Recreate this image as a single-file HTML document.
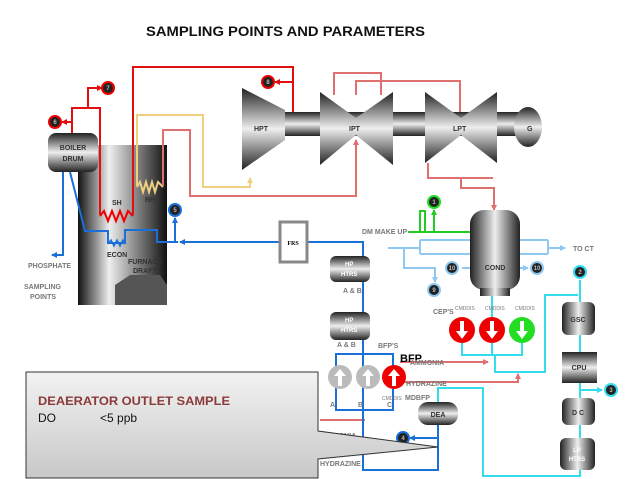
<!DOCTYPE html>
<html><head><meta charset="utf-8"><style>
body{margin:0;background:#fff;}
svg{display:block;font-family:"Liberation Sans",sans-serif;}
.l{font-size:7px;font-weight:bold;fill:#333;}
.g{font-size:7px;font-weight:bold;fill:#777;}
</style></head><body>
<svg width="638" height="479" viewBox="0 0 638 479" xmlns="http://www.w3.org/2000/svg">
<defs>
<linearGradient id="met" x1="0" y1="0" x2="0" y2="1"><stop offset="0" stop-color="#222"/><stop offset="0.5" stop-color="#eee"/><stop offset="1" stop-color="#222"/></linearGradient>
<linearGradient id="meth" x1="0" y1="0" x2="1" y2="0"><stop offset="0" stop-color="#222"/><stop offset="0.5" stop-color="#eee"/><stop offset="1" stop-color="#222"/></linearGradient>
<linearGradient id="furn" x1="0" y1="0" x2="1" y2="0"><stop offset="0" stop-color="#111"/><stop offset="0.35" stop-color="#eee"/><stop offset="0.6" stop-color="#999"/><stop offset="1" stop-color="#111"/></linearGradient>
<linearGradient id="box" x1="0" y1="0" x2="0" y2="1"><stop offset="0" stop-color="#f2f2f2"/><stop offset="1" stop-color="#c8c8c8"/></linearGradient>
<marker id="ar" markerWidth="6" markerHeight="6" refX="5" refY="3" orient="auto" markerUnits="userSpaceOnUse"><path d="M0,0L6,3L0,6z" fill="context-stroke"/></marker>
</defs>
<text x="146" y="36" font-size="13.5" font-weight="bold" fill="#111" textLength="279" lengthAdjust="spacingAndGlyphs">SAMPLING POINTS AND PARAMETERS</text>

<!-- furnace -->
<rect x="78" y="145" width="89" height="160" fill="url(#furn)"/>
<path d="M115,305 L115,285 L130,275 L160,275 L167,285 L167,305z" fill="#555"/>
<rect x="48" y="133" width="50" height="39" rx="8" fill="url(#met)"/>
<text x="73" y="150" class="l" text-anchor="middle">BOILER</text>
<text x="73" y="161" class="l" text-anchor="middle">DRUM</text>
<polyline points="100,216 104,211 108,221 112,211 116,221 120,211 124,221 128,211 133,216" fill="none" stroke="#e00" stroke-width="2"/>
<text x="112" y="205" class="l">SH</text>
<polyline points="137,187 140,182 143,192 146,182 149,192 152,182 155,192 158,182 163,187" fill="none" stroke="#f0d080" stroke-width="2"/>
<text x="145" y="202" class="l">RH</text>
<polyline points="108,244 111,240 114,246 117,240 120,246 123,240 125,244" fill="none" stroke="#1a6fd8" stroke-width="1.5"/>
<text x="107" y="257" class="l">ECON</text>
<text x="128" y="264" class="l">FURNACE</text>
<text x="133" y="273" class="l">DRAFT</text>
<text x="28" y="268" class="g">PHOSPHATE</text>
<text x="24" y="289" class="g">SAMPLING</text>
<text x="30" y="299" class="g">POINTS</text>

<!-- red lines -->
<g fill="none" stroke="#e01010" stroke-width="2">
<polyline points="72,133 72,108 100,108 100,215"/>
<polyline points="72,122 62,122" marker-end="url(#ar)"/>
<polyline points="88,108 88,88 102,88" marker-end="url(#ar)"/>
<polyline points="133,215 133,67 293,67 293,118" marker-end="url(#ar)"/>
<polyline points="293,82 275,82" marker-end="url(#ar)"/>
</g>
<g fill="none" stroke="#f0d080" stroke-width="2">
<polyline points="137,186 137,115 203,115 203,187 250,187 250,178" marker-end="url(#ar)"/>
</g>
<g fill="none" stroke="#e07070" stroke-width="2">
<polyline points="163,186 163,130 190,130 190,196 356,196 356,140" marker-end="url(#ar)"/>
<polyline points="334,95 334,73 381,73 381,95"/>
<polyline points="356,95 356,81 460,81 460,118" marker-end="url(#ar)"/>
<polyline points="428,163 428,178 493,178"/>
<polyline points="461,178 461,188 494,188 494,210" marker-end="url(#ar)"/>
<polyline points="400,362 488,362" marker-end="url(#ar)"/>
<polyline points="400,382 518,382 518,374" marker-end="url(#ar)"/>
<polyline points="320,420 365,420"/>
</g>

<!-- turbines -->
<rect x="285" y="112" width="240" height="24" fill="url(#met)"/>
<path d="M242,88 L285,110 L285,140 L242,170z" fill="url(#met)"/>
<path d="M320,92 L356,118 L393,92 L393,165 L356,135 L320,165z" fill="url(#met)"/>
<path d="M425,92 L461,118 L497,92 L497,163 L461,135 L425,163z" fill="url(#met)"/>
<ellipse cx="528" cy="127" rx="14" ry="20" fill="url(#met)"/>
<text x="254" y="131" class="l">HPT</text>
<text x="349" y="131" class="l">IPT</text>
<text x="453" y="131" class="l">LPT</text>
<text x="527" y="131" class="l">G</text>

<!-- blue lines -->
<g fill="none" stroke="#1a6fd8" stroke-width="2">
<polyline points="63,172 63,255 52,255" marker-end="url(#ar)"/>
<polyline points="70,172 85,231 108,231 108,243 125,243 125,230 157,230 157,242 178,242"/>
<polyline points="280,242 180,242" marker-end="url(#ar)"/>
<polyline points="175,242 175,218" marker-end="url(#ar)"/>
<polyline points="307,242 363,242 363,470 438,470 438,425"/>
<polyline points="438,438 410,438" marker-end="url(#ar)"/>
<rect x="336" y="354" width="57" height="56"/>
</g>
<rect x="280" y="222" width="27" height="40" fill="#fff" stroke="#888" stroke-width="3"/>
<text x="293" y="245" font-size="6" font-family="Liberation Serif" font-weight="bold" text-anchor="middle">FRS</text>

<!-- HP heaters -->
<rect x="330" y="256" width="40" height="26" rx="6" fill="url(#met)"/>
<text x="345" y="266" font-size="6" font-weight="bold" fill="#fff">HP</text>
<text x="341" y="276" font-size="6" font-weight="bold" fill="#fff">HTRS</text>
<text x="343" y="293" class="g">A &amp; B</text>
<rect x="330" y="312" width="40" height="28" rx="6" fill="url(#met)"/>
<text x="345" y="322" font-size="6" font-weight="bold" fill="#fff">HP</text>
<text x="341" y="332" font-size="6" font-weight="bold" fill="#fff">HTRS</text>
<text x="337" y="347" class="g">A &amp; B</text>
<text x="378" y="348" class="g">BFP'S</text>
<circle cx="340" cy="377" r="12" fill="#bbb"/><circle cx="368" cy="377" r="12" fill="#bbb"/><circle cx="394" cy="377" r="12" fill="#e00"/>
<path d="M340,369 L346,376 L342,376 L342,386 L338,386 L338,376 L334,376z M368,369 L374,376 L370,376 L370,386 L366,386 L366,376 L362,376z M394,369 L400,376 L396,376 L396,386 L392,386 L392,376 L388,376z" fill="#fff"/>
<text x="330" y="407" class="g">A</text><text x="358" y="407" class="g">B</text><text x="387" y="407" class="g">C</text>
<text x="382" y="400" font-size="5" fill="#777">CMDDIS</text>
<text x="405" y="400" class="g">MDBFP</text>
<text x="400" y="362" font-size="11" font-weight="bold" fill="#000">BFP</text>
<text x="410" y="365" class="g">AMMONIA</text>
<text x="406" y="386" class="g">HYDRAZINE</text>
<rect x="418" y="402" width="40" height="23" rx="10" fill="url(#met)"/>
<text x="438" y="417" class="l" text-anchor="middle" fill="#fff">DEA</text>

<!-- condenser area -->
<g fill="none" stroke="#8fc8f0" stroke-width="2">
<polyline points="388,248 420,248"/>
<polyline points="420,240 548,240"/><polyline points="420,254 548,254"/>
<polyline points="420,240 420,254"/><polyline points="548,240 548,254"/>
<polyline points="548,248 565,248" marker-end="url(#ar)"/>
<polyline points="404,248 404,268 435,268 435,282" marker-end="url(#ar)"/>
</g>
<g fill="none" stroke="#22cc22" stroke-width="2">
<polyline points="408,232 492,232"/>
<polyline points="420,232 420,211 425,211 425,232"/>
<polyline points="434,232 434,210" marker-end="url(#ar)"/>
</g>
<text x="362" y="234" class="g">DM MAKE UP</text>
<text x="573" y="251" class="g">TO CT</text>
<rect x="470" y="210" width="50" height="80" rx="14" fill="url(#meth)"/>
<rect x="480" y="288" width="30" height="8" fill="url(#meth)"/>
<text x="495" y="270" class="l" text-anchor="middle">COND</text>
<g fill="none" stroke="#33ddee" stroke-width="2">
<polyline points="492,296 492,318"/>
<polyline points="462,330 462,355 522,355 522,330"/><polyline points="492,330 492,355"/>
<polyline points="495,355 495,372 545,372 545,295 578,295"/>
<polyline points="580,280 580,302"/><polyline points="580,335 580,352"/>
<polyline points="580,383 580,476 483,476 483,388 438,388 438,402"/>
<polyline points="580,390 602,390" marker-end="url(#ar)"/>
</g>
<text x="433" y="314" class="g">CEP'S</text>
<text x="455" y="310" font-size="5" fill="#777">CMDDIS</text><text x="485" y="310" font-size="5" fill="#777">CMDDIS</text><text x="515" y="310" font-size="5" fill="#777">CMDDIS</text>
<circle cx="462" cy="330" r="13" fill="#e00"/><circle cx="492" cy="330" r="13" fill="#e00"/><circle cx="522" cy="330" r="13" fill="#2d2"/>
<path d="M462,339 L468,331 L464,331 L464,321 L460,321 L460,331 L456,331z M492,339 L498,331 L494,331 L494,321 L490,321 L490,331 L486,331z M522,339 L528,331 L524,331 L524,321 L520,321 L520,331 L516,331z" fill="#fff"/>
<rect x="562" y="302" width="33" height="33" rx="6" fill="url(#meth)"/><text x="578" y="322" class="l" text-anchor="middle">GSC</text>
<rect x="562" y="352" width="35" height="31" fill="url(#met)"/><text x="579" y="370" class="l" text-anchor="middle">CPU</text>
<rect x="562" y="398" width="33" height="27" rx="6" fill="url(#meth)"/><text x="578" y="415" class="l" text-anchor="middle">D C</text>
<rect x="560" y="438" width="35" height="32" rx="6" fill="url(#meth)"/><text x="577" y="452" font-size="6" font-weight="bold" fill="#fff" text-anchor="middle">LP</text><text x="577" y="461" font-size="6" font-weight="bold" fill="#fff" text-anchor="middle">HTRS</text>

<!-- sample circles -->
<g font-size="6" font-weight="bold" text-anchor="middle" fill="#bbb">
<circle cx="55" cy="122" r="6" fill="#222" stroke="#e00" stroke-width="2"/><text x="55" y="124">6</text>
<circle cx="108" cy="88" r="6" fill="#222" stroke="#e00" stroke-width="2"/><text x="108" y="90">7</text>
<circle cx="268" cy="82" r="6" fill="#222" stroke="#e00" stroke-width="2"/><text x="268" y="84">8</text>
<circle cx="175" cy="210" r="6" fill="#222" stroke="#1a6fd8" stroke-width="2"/><text x="175" y="212">5</text>
<circle cx="434" cy="202" r="6" fill="#222" stroke="#2d2" stroke-width="2"/><text x="434" y="204">1</text>
<circle cx="434" cy="290" r="6" fill="#222" stroke="#8fc8f0" stroke-width="2"/><text x="434" y="292">9</text>
<circle cx="452" cy="268" r="6" fill="#222" stroke="#8fc8f0" stroke-width="2"/><text x="452" y="270">10</text>
<circle cx="537" cy="268" r="6" fill="#222" stroke="#8fc8f0" stroke-width="2"/><text x="537" y="270">10</text>
<circle cx="580" cy="272" r="6" fill="#222" stroke="#33ddee" stroke-width="2"/><text x="580" y="274">2</text>
<circle cx="611" cy="390" r="6" fill="#222" stroke="#33ddee" stroke-width="2"/><text x="611" y="392">3</text>
<circle cx="403" cy="438" r="6" fill="#222" stroke="#1a6fd8" stroke-width="2"/><text x="403" y="440">4</text>
</g>
<g fill="none" stroke-width="2">
<polyline points="462,268 470,268" stroke="#8fc8f0"/><polyline points="520,268 528,268" stroke="#8fc8f0" marker-end="url(#ar)"/>
</g>
<text x="322" y="438" class="g">AMMONIA</text>
<text x="320" y="466" class="g">HYDRAZINE</text>

<!-- callout -->
<path d="M26,372 L318,372 L318,431 L438,447 L318,459 L318,478 L26,478z" fill="url(#box)" stroke="#333" stroke-width="1"/>
<text x="38" y="405" font-size="12" font-weight="bold" fill="#8b3a3a" textLength="192" lengthAdjust="spacingAndGlyphs">DEAERATOR OUTLET SAMPLE</text>
<text x="38" y="422" font-size="12" fill="#111">DO</text>
<text x="100" y="422" font-size="12" fill="#111">&lt;5 ppb</text>
</svg>
</body></html>
